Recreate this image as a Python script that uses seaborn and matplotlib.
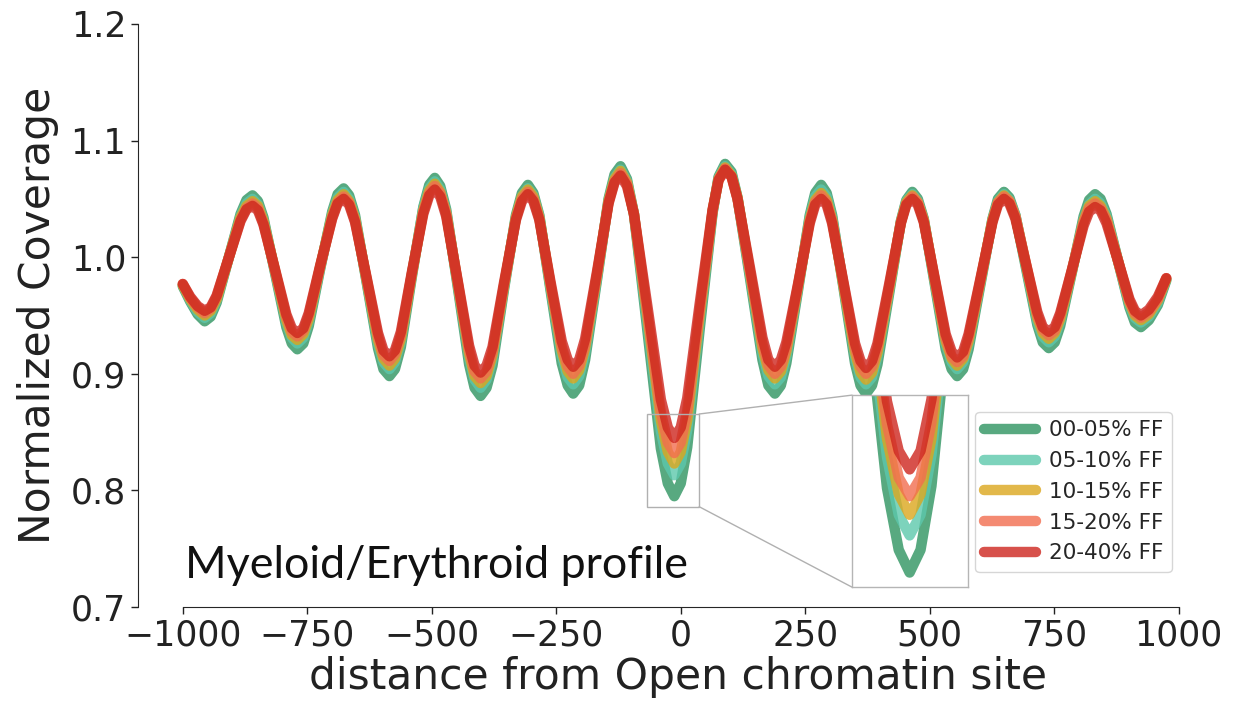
import numpy as np
import pandas as pd
import matplotlib
matplotlib.use("Agg")
import matplotlib.pyplot as plt
import seaborn as sns
from matplotlib.patches import ConnectionPatch, Rectangle

distance = [-1000, -985, -970, -956,
            -944, -932, -908, -884, -872, -860,
            -849, -838, -815, -792, -781, -770,
            -758, -747, -724, -700, -689, -677,
            -666, -654, -631, -608, -597, -585,
            -574, -562, -540, -517, -505, -494,
            -483, -471, -448, -425, -414, -402,
            -390, -378, -355, -331, -319, -307,
            -296, -284, -262, -239, -227, -216,
            -204, -192, -168, -145, -133, -121,
            -108, -94, -67, -40, -26, -13,
            0, 13, 38, 64, 76, 89,
            102, 114, 139, 164, 176, 189,
            201, 212, 236, 259, 270, 282,
            293, 304, 327, 350, 361, 372,
            384, 395, 419, 442, 453, 465,
            476, 488, 510, 532, 544, 555,
            567, 578, 602, 626, 637, 649,
            660, 672, 694, 716, 727, 739,
            751, 762, 786, 809, 820, 832,
            843, 855, 878, 901, 912, 924,
            940, 958, 975]

ff_00_05 = [0.975, 0.962, 0.951, 0.945,
            0.949, 0.961, 0.999, 1.037, 1.049, 1.053,
            1.048, 1.034, 0.987, 0.940, 0.926, 0.921,
            0.926, 0.941, 0.990, 1.039, 1.054, 1.059,
            1.053, 1.036, 0.979, 0.922, 0.904, 0.898,
            0.904, 0.923, 0.983, 1.043, 1.062, 1.068,
            1.061, 1.041, 0.975, 0.908, 0.888, 0.881,
            0.888, 0.907, 0.972, 1.036, 1.055, 1.062,
            1.055, 1.036, 0.973, 0.909, 0.890, 0.883,
            0.890, 0.912, 0.981, 1.050, 1.071, 1.078,
            1.067, 1.037, 0.937, 0.836, 0.806, 0.795,
            0.806, 0.837, 0.938, 1.038, 1.069, 1.080,
            1.073, 1.051, 0.982, 0.912, 0.890, 0.883,
            0.890, 0.909, 0.973, 1.036, 1.055, 1.062,
            1.055, 1.036, 0.973, 0.909, 0.890, 0.883,
            0.890, 0.908, 0.970, 1.031, 1.049, 1.056,
            1.050, 1.033, 0.977, 0.921, 0.904, 0.898,
            0.904, 0.921, 0.977, 1.033, 1.050, 1.056,
            1.051, 1.036, 0.989, 0.942, 0.927, 0.922,
            0.927, 0.941, 0.988, 1.035, 1.049, 1.054,
            1.050, 1.037, 0.997, 0.957, 0.944, 0.940,
            0.946, 0.959, 0.980]

ff_05_10 = [0.976, 0.963, 0.953, 0.948,
            0.952, 0.963, 0.999, 1.035, 1.046, 1.050,
            1.045, 1.032, 0.988, 0.944, 0.931, 0.926,
            0.931, 0.945, 0.991, 1.037, 1.051, 1.056,
            1.050, 1.034, 0.980, 0.926, 0.910, 0.904,
            0.910, 0.928, 0.985, 1.042, 1.059, 1.065,
            1.058, 1.039, 0.977, 0.914, 0.895, 0.888,
            0.895, 0.913, 0.974, 1.034, 1.052, 1.059,
            1.053, 1.035, 0.975, 0.916, 0.897, 0.891,
            0.898, 0.918, 0.983, 1.048, 1.068, 1.075,
            1.065, 1.037, 0.944, 0.851, 0.823, 0.813,
            0.823, 0.852, 0.946, 1.039, 1.068, 1.078,
            1.071, 1.051, 0.985, 0.918, 0.898, 0.891,
            0.897, 0.915, 0.975, 1.034, 1.052, 1.058,
            1.052, 1.034, 0.975, 0.915, 0.897, 0.891,
            0.897, 0.915, 0.973, 1.030, 1.048, 1.054,
            1.048, 1.032, 0.979, 0.926, 0.910, 0.904,
            0.910, 0.926, 0.979, 1.032, 1.048, 1.054,
            1.049, 1.036, 0.991, 0.945, 0.932, 0.927,
            0.932, 0.945, 0.989, 1.032, 1.045, 1.050,
            1.046, 1.035, 0.997, 0.959, 0.948, 0.944,
            0.949, 0.961, 0.981]

ff_10_15 = [0.976, 0.964, 0.955, 0.950,
            0.954, 0.964, 0.999, 1.034, 1.044, 1.048,
            1.044, 1.031, 0.989, 0.946, 0.933, 0.929,
            0.934, 0.947, 0.992, 1.036, 1.049, 1.054,
            1.048, 1.033, 0.981, 0.929, 0.913, 0.907,
            0.913, 0.930, 0.985, 1.040, 1.057, 1.063,
            1.056, 1.038, 0.978, 0.917, 0.898, 0.892,
            0.898, 0.916, 0.975, 1.034, 1.052, 1.058,
            1.052, 1.034, 0.977, 0.920, 0.902, 0.896,
            0.903, 0.922, 0.985, 1.048, 1.067, 1.074,
            1.064, 1.037, 0.949, 0.860, 0.833, 0.823,
            0.833, 0.860, 0.950, 1.040, 1.067, 1.077,
            1.070, 1.051, 0.987, 0.922, 0.903, 0.896,
            0.902, 0.919, 0.976, 1.032, 1.049, 1.055,
            1.049, 1.032, 0.975, 0.918, 0.901, 0.895,
            0.901, 0.918, 0.974, 1.030, 1.047, 1.053,
            1.047, 1.032, 0.980, 0.928, 0.913, 0.907,
            0.913, 0.928, 0.980, 1.032, 1.047, 1.053,
            1.048, 1.035, 0.992, 0.948, 0.935, 0.930,
            0.935, 0.947, 0.989, 1.031, 1.044, 1.048,
            1.044, 1.033, 0.997, 0.961, 0.950, 0.946,
            0.951, 0.963, 0.981]

ff_15_20 = [0.977, 0.965, 0.957, 0.952,
            0.956, 0.966, 0.999, 1.032, 1.042, 1.046,
            1.042, 1.029, 0.989, 0.949, 0.936, 0.932,
            0.937, 0.950, 0.992, 1.034, 1.047, 1.052,
            1.047, 1.031, 0.982, 0.932, 0.916, 0.911,
            0.917, 0.933, 0.986, 1.039, 1.055, 1.061,
            1.055, 1.037, 0.979, 0.920, 0.902, 0.896,
            0.902, 0.919, 0.976, 1.033, 1.050, 1.056,
            1.050, 1.033, 0.978, 0.923, 0.906, 0.900,
            0.907, 0.925, 0.986, 1.047, 1.065, 1.072,
            1.063, 1.037, 0.952, 0.867, 0.841, 0.832,
            0.841, 0.868, 0.954, 1.040, 1.067, 1.076,
            1.069, 1.050, 0.988, 0.926, 0.907, 0.900,
            0.906, 0.922, 0.977, 1.031, 1.047, 1.053,
            1.047, 1.031, 0.977, 0.922, 0.906, 0.900,
            0.906, 0.922, 0.976, 1.030, 1.046, 1.052,
            1.047, 1.031, 0.981, 0.931, 0.915, 0.910,
            0.915, 0.931, 0.981, 1.031, 1.047, 1.052,
            1.048, 1.035, 0.993, 0.950, 0.938, 0.933,
            0.937, 0.950, 0.990, 1.030, 1.042, 1.046,
            1.042, 1.032, 0.997, 0.962, 0.952, 0.948,
            0.953, 0.964, 0.982]

ff_20_40 = [0.977, 0.966, 0.958, 0.954,
            0.957, 0.967, 0.999, 1.031, 1.041, 1.044,
            1.040, 1.028, 0.990, 0.951, 0.939, 0.935,
            0.939, 0.952, 0.993, 1.033, 1.046, 1.050,
            1.045, 1.030, 0.983, 0.935, 0.920, 0.915,
            0.920, 0.936, 0.987, 1.037, 1.053, 1.058,
            1.052, 1.035, 0.980, 0.924, 0.907, 0.901,
            0.907, 0.923, 0.978, 1.032, 1.048, 1.054,
            1.048, 1.032, 0.980, 0.928, 0.912, 0.906,
            0.912, 0.930, 0.988, 1.046, 1.064, 1.070,
            1.061, 1.037, 0.958, 0.878, 0.854, 0.845,
            0.854, 0.879, 0.960, 1.041, 1.066, 1.075,
            1.069, 1.050, 0.991, 0.931, 0.912, 0.906,
            0.912, 0.927, 0.978, 1.029, 1.045, 1.050,
            1.045, 1.029, 0.978, 0.926, 0.911, 0.905,
            0.911, 0.926, 0.978, 1.029, 1.045, 1.050,
            1.045, 1.030, 0.982, 0.934, 0.919, 0.914,
            0.919, 0.934, 0.982, 1.030, 1.045, 1.050,
            1.046, 1.033, 0.993, 0.953, 0.940, 0.936,
            0.940, 0.952, 0.990, 1.027, 1.039, 1.043,
            1.040, 1.029, 0.997, 0.964, 0.954, 0.950,
            0.955, 0.966, 0.982]

groups = ["00-05% FF", "05-10% FF", "10-15% FF", "15-20% FF", "20-40% FF"]
colors = ["#2e9460", "#5cc8ac", "#dba61d", "#f26d4f", "#cd261e"]
x_ticks = [-1000, -750, -500, -250, 0, 250, 500, 750, 1000]
y_ticks = [0.7, 0.8, 0.9, 1.0, 1.1, 1.2]

series = [ff_00_05, ff_05_10, ff_10_15, ff_15_20, ff_20_40]
df = pd.concat([pd.DataFrame({"distance": distance, "coverage": s, "group": g})
                for s, g in zip(series, groups)], ignore_index=True)

sns.set_style("ticks")
plt.rcParams["font.family"] = ["DejaVu Sans"]

fig = plt.figure(figsize=(12.35, 7.09), dpi=100)
ax = fig.add_axes([0.1117, 0.1439, 0.875, 0.8223])

line_kw = dict(data=df, x="distance", y="coverage", hue="group", hue_order=groups,
               palette=colors, linewidth=7.5, alpha=0.8, estimator=None, sort=False)
sns.lineplot(ax=ax, **line_kw)

ax.set_xlim(-1090, 1080)
ax.set_ylim(0.7, 1.2)
ax.set_xticks(x_ticks)
ax.set_yticks(y_ticks)
ax.tick_params(labelsize=25, length=5, width=1, colors="#222222")
ax.set_xlabel("distance from Open chromatin site", fontsize=30.5, color="#222222",
              labelpad=2)
ax.set_ylabel("Normalized Coverage", fontsize=30.5, color="#222222", labelpad=8)
sns.despine(ax=ax, trim=True)

sns.move_legend(ax, "lower right", bbox_to_anchor=(0.9565, 0.06), title=None,
                fontsize=15.5, handlelength=2.4, handletextpad=0.6,
                borderaxespad=0, frameon=True)

ax.text(0.0435, 0.05, "Myeloid/Erythroid profile", transform=ax.transAxes,
        fontsize=32.3, family=["Lato", "DejaVu Sans"], va="baseline", color="#111111")

# zoom indicator on the central trough and its magnified inset
rect_x = (-68, 37)
rect_y = (0.786, 0.8655)
inset_x = (-82, 57)
inset_y = (0.788, 0.881)
axins = ax.inset_axes([0.6605, 0.0343, 0.108, 0.329])
sns.lineplot(ax=axins, legend=False, **line_kw)
axins.set_xlim(*inset_x)
axins.set_ylim(*inset_y)
axins.set_xticks([])
axins.set_yticks([])
axins.set_xlabel("")
axins.set_ylabel("")
for sp in axins.spines.values():
    sp.set_visible(True)
    sp.set_color("#b5b5b5")
    sp.set_linewidth(1)

ax.add_patch(Rectangle((rect_x[0], rect_y[0]), rect_x[1] - rect_x[0], rect_y[1] - rect_y[0],
                       fill=False, edgecolor="#b0b0b0", linewidth=1, zorder=4))
for ya, yb in [(1, rect_y[1]), (0, rect_y[0])]:
    con = ConnectionPatch(xyA=(0, ya), coordsA=axins.transAxes,
                          xyB=(rect_x[1], yb), coordsB=ax.transData,
                          color="#b0b0b0", linewidth=1)
    fig.add_artist(con)

fig.savefig("out.png", dpi=100)
